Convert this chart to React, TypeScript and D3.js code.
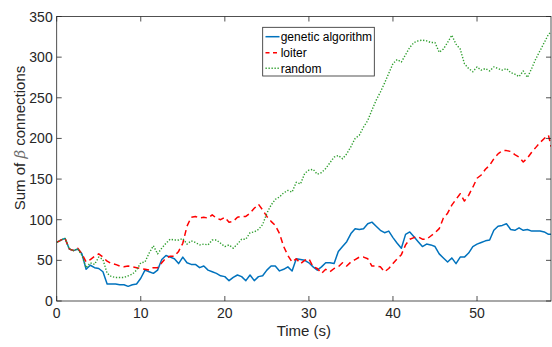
import React from "react";
import * as d3 from "d3";

const timeStep = 0.5;
const lastTime = 58.8;

const geneticAlgorithm = [72,75,77,64,62,64,58,39,44,41,40,36,21,21,21,20,20,18,20,21,28,38,36,34,38,51,56,54,52,46,54,47,45,45,41,43,38,36,34,31,30,25,29,32,30,25,32,25,30,31,38,43,43,37,39,42,37,52,51,50,47,42,38,42,47,47,46,61,67,73,83,89,88,89,95,97,92,87,84,86,78,71,65,82,85,79,73,67,70,69,67,58,53,48,53,46,54,54,59,67,70,72,74,75,87,92,93,95,88,87,90,87,88,86,86,86,85,82,82];
const loiter = [72,75,77,64,62,65,58,48,51,55,58,54,49,46,45,43,42,43,42,41,40,39,38,41,41,47,53,55,55,61,71,92,103,104,102,103,102,106,102,100,103,97,98,103,104,104,108,114,119,112,104,98,93,83,67,56,48,52,46,50,52,42,40,34,39,36,40,42,47,43,48,51,54,54,52,43,43,42,36,40,46,52,57,69,76,78,79,76,76,80,84,89,102,108,118,125,132,123,130,140,151,155,162,167,175,181,185,185,184,180,177,171,176,183,189,195,200,204,190];
const random = [72,75,77,64,62,64,56,41,47,45,54,51,34,30,29,29,29,31,33,38,47,48,59,68,58,65,71,76,75,75,77,70,74,72,69,70,69,75,75,71,67,69,65,70,76,76,84,85,88,94,108,118,125,128,133,136,134,146,144,157,161,162,156,158,163,170,177,179,175,181,190,200,204,214,222,235,247,257,268,280,292,297,294,303,312,318,320,321,320,318,318,306,310,318,327,316,310,292,286,282,288,284,286,283,288,286,284,286,281,279,276,283,275,286,298,308,318,328,331];

const times = [...d3.range(0, 58.5 + 1e-9, timeStep), lastTime];

const seriesNames = ["genetic algorithm", "loiter", "random"];
const seriesValues = [geneticAlgorithm, loiter, random];
const seriesColors = ["#0072BD", "#FF0000", "#2E9E2E"];
const seriesDash = [null, "6,4", "1.3,1.7"];
const seriesWidth = [1.5, 1.5, 1.4];

const xTicks = [0, 10, 20, 30, 40, 50];
const yTicks = [0, 50, 100, 150, 200, 250, 300, 350];

const W = 552, H = 347;
const M = { left: 56.7, right: 551, top: 16.5, bottom: 301 };
const AX = "#262626";
const FONT = "'Liberation Sans', Arial, Helvetica, sans-serif";

export default function App() {
  const x = d3.scaleLinear().domain([0, lastTime]).range([M.left, M.right]);
  const y = d3.scaleLinear().domain([0, 350]).range([M.bottom, M.top]);
  const line = (vals: number[]) =>
    d3.line<number>().x((_, i) => x(times[i])).y((v) => y(v))(vals) || "";
  const tl = 5;
  const legendRows = [36.7, 52.7, 68.3];

  return (
    <svg width={W} height={H} style={{ position: "fixed", left: 0, top: 0, background: "#fff" }}
      fontFamily={FONT}>
      <rect x={0} y={0} width={W} height={H} fill="#fff" />
      <defs>
        <clipPath id="plotclip">
          <rect x={M.left} y={M.top} width={M.right - M.left} height={M.bottom - M.top} />
        </clipPath>
      </defs>
      <g clipPath="url(#plotclip)">
        {seriesValues.map((vals, k) => (
          <path key={k} d={line(vals)} fill="none" stroke={seriesColors[k]}
            strokeWidth={seriesWidth[k]} strokeDasharray={seriesDash[k] || undefined}
            strokeLinejoin="round" />
        ))}
      </g>
      {/* box */}
      <rect x={M.left} y={M.top} width={M.right - M.left} height={M.bottom - M.top}
        fill="none" stroke={AX} strokeWidth={0.8} />
      {xTicks.map((t) => (
        <g key={"xt" + t}>
          <line x1={x(t)} x2={x(t)} y1={M.bottom} y2={M.bottom - tl} stroke={AX} strokeWidth={0.8} />
          <line x1={x(t)} x2={x(t)} y1={M.top} y2={M.top + tl} stroke={AX} strokeWidth={0.8} />
          <text x={x(t)} y={M.bottom + 17} textAnchor="middle" fontSize={14} fill={AX}>{t}</text>
        </g>
      ))}
      {yTicks.map((v) => (
        <g key={"yt" + v}>
          <line x1={M.left} x2={M.left + tl} y1={y(v)} y2={y(v)} stroke={AX} strokeWidth={0.8} />
          <line x1={M.right} x2={M.right - tl} y1={y(v)} y2={y(v)} stroke={AX} strokeWidth={0.8} />
          <text x={M.left - 4} y={y(v) + 5} textAnchor="end" fontSize={14} fill={AX}>{v}</text>
        </g>
      ))}
      <text x={(M.left + M.right) / 2} y={336} textAnchor="middle" fontSize={15} fill={AX}>Time (s)</text>
      <text transform={`translate(25,138) rotate(-90)`} textAnchor="middle" fontSize={15} fill={AX}>
        Sum of <tspan fontStyle="italic" fill="#6a6a6a" fontFamily="'DejaVu Serif', serif">β</tspan> connections
      </text>
      {/* legend */}
      <rect x={262.7} y={27.3} width={111.6} height={48.7} fill="#fff" stroke={AX} strokeWidth={0.8} />
      {seriesNames.map((n, k) => (
        <g key={n}>
          <line x1={265.5} x2={279.5} y1={legendRows[k]} y2={legendRows[k]} stroke={seriesColors[k]}
            strokeWidth={seriesWidth[k]} strokeDasharray={k === 1 ? "4,3.5" : seriesDash[k] || undefined} />
          <text x={280.7} y={legendRows[k] + 4.2} fontSize={12} fill="#000">{n}</text>
        </g>
      ))}
    </svg>
  );
}
